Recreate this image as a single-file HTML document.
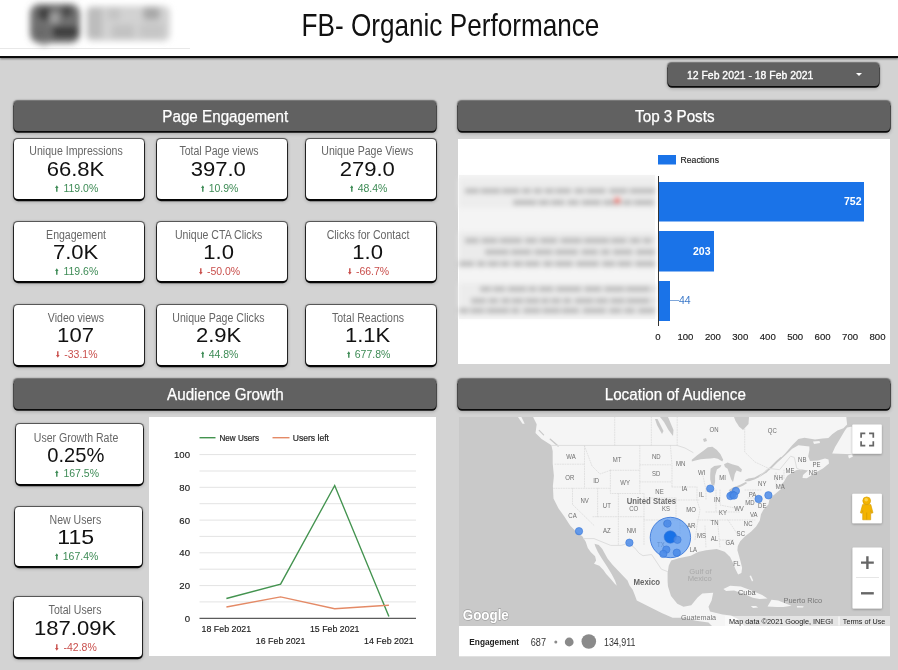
<!DOCTYPE html>
<html><head><meta charset="utf-8">
<style>
*{margin:0;padding:0;box-sizing:border-box}
html,body{width:898px;height:670px;overflow:hidden;background:#d3d3d3;font-family:"Liberation Sans",sans-serif}
.a{position:absolute}
#top{left:0;top:0;width:898px;height:56px;background:#fff;box-shadow:0 2px 0 0 #0c0c0c,0 2.5px 2px 0 rgba(0,0,0,.45)}
.hb{position:absolute;background:#616161;border-radius:4px;box-shadow:0 0 1.2px 0.6px rgba(0,0,0,.45),0 1.3px 0.4px 0.4px #111,0 1.5px 3.5px 1px rgba(0,0,0,.2);color:#fff;text-align:center;white-space:nowrap}
.hb span{display:inline-block;-webkit-text-stroke:0.25px #fff}
.card{position:absolute;background:#fff;border-radius:4px;box-shadow:0 0.4px 0.8px 0.6px rgba(0,0,0,.6),0 1.6px 0.4px 0.6px #0a0a0a,0 1.5px 3.5px 1px rgba(0,0,0,.2)}
.t{position:absolute;white-space:nowrap;text-align:center;line-height:1}
.t span{display:inline-block}
.lbl{color:#666;font-size:12px}
.val{color:#111;font-size:21px}
.up{color:#3d8b55;font-size:10.5px}
.dn{color:#c94f4c;font-size:10.5px}
.ar{display:inline-block;width:3.6px;height:7px;margin-right:4.4px;vertical-align:0px}
</style></head>
<body><div id="wrap" style="position:absolute;left:0;top:0;width:898px;height:670px;will-change:transform">
<div id="top" class="a"></div>
<div class="t" style="left:260px;top:10px;width:380px;font-size:31.5px;color:#111"><span style="transform:scaleX(.83)">FB- Organic Performance</span></div>
<div class="hb" style="left:13.6px;top:101px;width:422.2px;height:30px;font-size:16px;line-height:32.5px"><span style="transform:translateX(1px) scaleX(0.95)">Page Engagement</span></div>
<div class="hb" style="left:458px;top:101px;width:432.3px;height:30px;font-size:16px;line-height:32.5px"><span style="transform:translateX(1px) scaleX(0.95)">Top 3 Posts</span></div>
<div class="hb" style="left:13.6px;top:379.2px;width:422.2px;height:30.3px;font-size:16px;line-height:32.5px"><span style="transform:translateX(1px) scaleX(0.95)">Audience Growth</span></div>
<div class="hb" style="left:458px;top:379.2px;width:432.3px;height:30.3px;font-size:16px;line-height:32.5px"><span style="transform:translateX(1px) scaleX(0.95)">Location of Audience</span></div>
<div class="hb" style="left:668px;top:63px;width:211px;height:23px;font-size:11.4px;line-height:25.5px;text-align:left"><span style="position:absolute;left:19px;top:0;transform-origin:left;transform:scaleX(.915);-webkit-text-stroke:0.35px #fff">12 Feb 2021 - 18 Feb 2021</span><svg class="a" style="left:188px;top:10px" width="6" height="4"><path d="M0 0H6L3 3Z" fill="#fff"/></svg></div>
<div class="card" style="left:14px;top:139px;width:129.7px;height:59.5px"></div>
<div class="t lbl" style="left:-24.150000000000006px;top:144.60px;width:200px"><span style="transform:scaleX(.88)">Unique Impressions</span></div>
<div class="t val" style="left:-24.150000000000006px;top:158.17px;width:200px"><span style="transform:scaleX(1.05)">66.8K</span></div>
<div class="t up" style="left:-23.150000000000006px;top:183.10px;width:200px"><span style="transform:scaleX(1.0)"><svg class="ar" viewBox="0 0 4 7"><path d="M2 0L4 3H2.8V7H1.2V3H0Z" fill="currentColor"/></svg>119.0%</span></div>
<div class="card" style="left:156.5px;top:139px;width:130.2px;height:59.5px"></div>
<div class="t lbl" style="left:118.6px;top:144.60px;width:200px"><span style="transform:scaleX(.88)">Total Page views</span></div>
<div class="t val" style="left:118.6px;top:158.17px;width:200px"><span style="transform:scaleX(1.05)">397.0</span></div>
<div class="t up" style="left:119.6px;top:183.10px;width:200px"><span style="transform:scaleX(1.0)"><svg class="ar" viewBox="0 0 4 7"><path d="M2 0L4 3H2.8V7H1.2V3H0Z" fill="currentColor"/></svg>10.9%</span></div>
<div class="card" style="left:305.5px;top:139px;width:130.2px;height:59.5px"></div>
<div class="t lbl" style="left:267.6px;top:144.60px;width:200px"><span style="transform:scaleX(.88)">Unique Page Views</span></div>
<div class="t val" style="left:267.6px;top:158.17px;width:200px"><span style="transform:scaleX(1.05)">279.0</span></div>
<div class="t up" style="left:268.6px;top:183.10px;width:200px"><span style="transform:scaleX(1.0)"><svg class="ar" viewBox="0 0 4 7"><path d="M2 0L4 3H2.8V7H1.2V3H0Z" fill="currentColor"/></svg>48.4%</span></div>
<div class="card" style="left:14px;top:221.5px;width:129.7px;height:59.5px"></div>
<div class="t lbl" style="left:-24.150000000000006px;top:228.70px;width:200px"><span style="transform:scaleX(.88)">Engagement</span></div>
<div class="t val" style="left:-24.150000000000006px;top:240.67px;width:200px"><span style="transform:scaleX(1.05)">7.0K</span></div>
<div class="t up" style="left:-23.150000000000006px;top:265.60px;width:200px"><span style="transform:scaleX(1.0)"><svg class="ar" viewBox="0 0 4 7"><path d="M2 0L4 3H2.8V7H1.2V3H0Z" fill="currentColor"/></svg>119.6%</span></div>
<div class="card" style="left:156.5px;top:221.5px;width:130.2px;height:59.5px"></div>
<div class="t lbl" style="left:118.6px;top:228.70px;width:200px"><span style="transform:scaleX(.88)">Unique CTA Clicks</span></div>
<div class="t val" style="left:118.6px;top:240.67px;width:200px"><span style="transform:scaleX(1.05)">1.0</span></div>
<div class="t dn" style="left:119.6px;top:265.60px;width:200px"><span style="transform:scaleX(1.0)"><svg class="ar" viewBox="0 0 4 7"><path d="M2 7L4 4H2.8V0H1.2V4H0Z" fill="currentColor"/></svg>-50.0%</span></div>
<div class="card" style="left:305.5px;top:221.5px;width:130.2px;height:59.5px"></div>
<div class="t lbl" style="left:267.6px;top:228.70px;width:200px"><span style="transform:scaleX(.88)">Clicks for Contact</span></div>
<div class="t val" style="left:267.6px;top:240.67px;width:200px"><span style="transform:scaleX(1.05)">1.0</span></div>
<div class="t dn" style="left:268.6px;top:265.60px;width:200px"><span style="transform:scaleX(1.0)"><svg class="ar" viewBox="0 0 4 7"><path d="M2 7L4 4H2.8V0H1.2V4H0Z" fill="currentColor"/></svg>-66.7%</span></div>
<div class="card" style="left:14px;top:304.5px;width:129.7px;height:60px"></div>
<div class="t lbl" style="left:-24.150000000000006px;top:311.70px;width:200px"><span style="transform:scaleX(.88)">Video views</span></div>
<div class="t val" style="left:-24.150000000000006px;top:323.67px;width:200px"><span style="transform:scaleX(1.05)">107</span></div>
<div class="t dn" style="left:-23.150000000000006px;top:348.60px;width:200px"><span style="transform:scaleX(1.0)"><svg class="ar" viewBox="0 0 4 7"><path d="M2 7L4 4H2.8V0H1.2V4H0Z" fill="currentColor"/></svg>-33.1%</span></div>
<div class="card" style="left:156.5px;top:304.5px;width:130.2px;height:60px"></div>
<div class="t lbl" style="left:118.6px;top:311.70px;width:200px"><span style="transform:scaleX(.88)">Unique Page Clicks</span></div>
<div class="t val" style="left:118.6px;top:323.67px;width:200px"><span style="transform:scaleX(1.05)">2.9K</span></div>
<div class="t up" style="left:119.6px;top:348.60px;width:200px"><span style="transform:scaleX(1.0)"><svg class="ar" viewBox="0 0 4 7"><path d="M2 0L4 3H2.8V7H1.2V3H0Z" fill="currentColor"/></svg>44.8%</span></div>
<div class="card" style="left:305.5px;top:304.5px;width:130.2px;height:60px"></div>
<div class="t lbl" style="left:267.6px;top:311.70px;width:200px"><span style="transform:scaleX(.88)">Total Reactions</span></div>
<div class="t val" style="left:267.6px;top:323.67px;width:200px"><span style="transform:scaleX(1.05)">1.1K</span></div>
<div class="t up" style="left:268.6px;top:348.60px;width:200px"><span style="transform:scaleX(1.0)"><svg class="ar" viewBox="0 0 4 7"><path d="M2 0L4 3H2.8V7H1.2V3H0Z" fill="currentColor"/></svg>677.8%</span></div>
<div class="card" style="left:15.5px;top:424px;width:127.5px;height:60px"></div>
<div class="t lbl" style="left:-23.75px;top:431.90px;width:200px"><span style="transform:scaleX(.88)">User Growth Rate</span></div>
<div class="t val" style="left:-23.75px;top:444.17px;width:200px"><span style="transform:scaleX(0.96)">0.25%</span></div>
<div class="t up" style="left:-22.75px;top:468.40px;width:200px"><span style="transform:scaleX(1.0)"><svg class="ar" viewBox="0 0 4 7"><path d="M2 0L4 3H2.8V7H1.2V3H0Z" fill="currentColor"/></svg>167.5%</span></div>
<div class="card" style="left:15px;top:506.7px;width:126.5px;height:59.5px"></div>
<div class="t lbl" style="left:-24.450000000000003px;top:514.00px;width:200px"><span style="transform:scaleX(.88)">New Users</span></div>
<div class="t val" style="left:-24.450000000000003px;top:526.17px;width:200px"><span style="transform:scaleX(1.1)">115</span></div>
<div class="t up" style="left:-23.450000000000003px;top:551.00px;width:200px"><span style="transform:scaleX(1.0)"><svg class="ar" viewBox="0 0 4 7"><path d="M2 0L4 3H2.8V7H1.2V3H0Z" fill="currentColor"/></svg>167.4%</span></div>
<div class="card" style="left:13.5px;top:597px;width:128px;height:60px"></div>
<div class="t lbl" style="left:-24.900000000000006px;top:603.90px;width:200px"><span style="transform:scaleX(.88)">Total Users</span></div>
<div class="t val" style="left:-24.900000000000006px;top:616.57px;width:200px"><span style="transform:scaleX(1.05)">187.09K</span></div>
<div class="t dn" style="left:-23.900000000000006px;top:641.70px;width:200px"><span style="transform:scaleX(1.0)"><svg class="ar" viewBox="0 0 4 7"><path d="M2 7L4 4H2.8V0H1.2V4H0Z" fill="currentColor"/></svg>-42.8%</span></div>
<div class="a" style="left:458px;top:139px;width:432px;height:225px;background:#fff"></div>
<div class="a" style="left:149px;top:417px;width:287px;height:239px;background:#fff"></div>
<div class="a" style="left:459px;top:417px;width:431px;height:239px;background:#fff"></div>
<svg class="a" style="left:0;top:0" width="200" height="56"><defs><filter id="lb" x="-20%" y="-20%" width="140%" height="140%"><feGaussianBlur stdDeviation="3.3"/></filter></defs>
<line x1="0" y1="48.5" x2="190" y2="48.5" stroke="#e8e8e8" stroke-width="1"/>
<g filter="url(#lb)">
<rect x="30" y="4" width="50" height="39" rx="9" fill="#727272"/>
<circle cx="44.4" cy="13.8" r="7" fill="#404040"/>
<circle cx="66.8" cy="11.5" r="6" fill="#484848"/>
<rect x="52" y="26" width="26" height="12" rx="5" fill="#3c3c3c"/>
<rect x="50" y="13" width="9" height="10" fill="#a0a0a0"/>
<rect x="34" y="26" width="14" height="14" rx="5" fill="#6a6a6a"/>
<rect x="40" y="40" width="8" height="5" fill="#8a8a8a"/>
<rect x="86" y="6" width="84" height="35" rx="6" fill="#d2d2d2"/>
<rect x="88" y="8" width="14" height="30" fill="#bcbcbc"/>
<rect x="108" y="8" width="12" height="12" fill="#c4c4c4"/>
<rect x="143" y="7" width="17" height="13" rx="4" fill="#a9a9a9"/>
<rect x="112" y="25" width="22" height="13" fill="#c2c2c2"/>
<rect x="140" y="24" width="24" height="14" fill="#c6c6c6"/>
</g></svg>
<svg class="a" style="left:0;top:0" width="898" height="670" font-family="Liberation Sans, sans-serif"><defs><filter id="bl" x="-5%" y="-20%" width="110%" height="140%"><feGaussianBlur stdDeviation="2.4"/></filter></defs><rect x="459" y="175" width="196" height="144" fill="#f4f4f4"/><g filter="url(#bl)"><rect x="459" y="178" width="196" height="30" fill="#ededed"/><rect x="459" y="232" width="196" height="36" fill="#ebebeb"/><rect x="459" y="283" width="196" height="34" fill="#ececec"/><rect x="465.0" y="188.20000000000002" width="13.8" height="5.4" fill="#bcbcbc"/><rect x="480.6" y="188.20000000000002" width="19.7" height="5.4" fill="#bcbcbc"/><rect x="502.0" y="188.20000000000002" width="17.6" height="5.4" fill="#bcbcbc"/><rect x="521.9" y="188.20000000000002" width="9.0" height="5.4" fill="#bcbcbc"/><rect x="533.4" y="188.20000000000002" width="8.7" height="5.4" fill="#bcbcbc"/><rect x="544.5" y="188.20000000000002" width="9.3" height="5.4" fill="#bcbcbc"/><rect x="555.4" y="188.20000000000002" width="15.6" height="5.4" fill="#bcbcbc"/><rect x="574.2" y="188.20000000000002" width="10.2" height="5.4" fill="#bcbcbc"/><rect x="586.4" y="188.20000000000002" width="19.3" height="5.4" fill="#bcbcbc"/><rect x="609.1" y="188.20000000000002" width="18.4" height="5.4" fill="#bcbcbc"/><rect x="629.7" y="188.20000000000002" width="25.3" height="5.4" fill="#bcbcbc"/><rect x="513.0" y="199.8" width="23.5" height="5.4" fill="#bcbcbc"/><rect x="538.5" y="199.8" width="10.6" height="5.4" fill="#bcbcbc"/><rect x="550.9" y="199.8" width="13.6" height="5.4" fill="#bcbcbc"/><rect x="567.5" y="199.8" width="11.3" height="5.4" fill="#bcbcbc"/><rect x="581.5" y="199.8" width="19.5" height="5.4" fill="#bcbcbc"/><rect x="603.2" y="199.8" width="17.9" height="5.4" fill="#bcbcbc"/><rect x="622.7" y="199.8" width="9.1" height="5.4" fill="#bcbcbc"/><rect x="633.7" y="199.8" width="20.2" height="5.4" fill="#bcbcbc"/><rect x="465.0" y="237.9" width="13.7" height="5.4" fill="#bcbcbc"/><rect x="481.3" y="237.9" width="16.2" height="5.4" fill="#bcbcbc"/><rect x="499.6" y="237.9" width="22.3" height="5.4" fill="#bcbcbc"/><rect x="524.8" y="237.9" width="12.4" height="5.4" fill="#bcbcbc"/><rect x="539.8" y="237.9" width="17.5" height="5.4" fill="#bcbcbc"/><rect x="560.5" y="237.9" width="21.1" height="5.4" fill="#bcbcbc"/><rect x="583.7" y="237.9" width="25.6" height="5.4" fill="#bcbcbc"/><rect x="611.1" y="237.9" width="15.5" height="5.4" fill="#bcbcbc"/><rect x="629.7" y="237.9" width="10.7" height="5.4" fill="#bcbcbc"/><rect x="642.9" y="237.9" width="8.7" height="5.4" fill="#bcbcbc"/><rect x="654.4" y="237.9" width="0.6" height="5.4" fill="#bcbcbc"/><rect x="485.0" y="249.4" width="23.8" height="5.4" fill="#bcbcbc"/><rect x="510.9" y="249.4" width="20.5" height="5.4" fill="#bcbcbc"/><rect x="534.1" y="249.4" width="18.4" height="5.4" fill="#bcbcbc"/><rect x="554.9" y="249.4" width="23.1" height="5.4" fill="#bcbcbc"/><rect x="581.4" y="249.4" width="16.5" height="5.4" fill="#bcbcbc"/><rect x="600.8" y="249.4" width="9.1" height="5.4" fill="#bcbcbc"/><rect x="612.8" y="249.4" width="19.6" height="5.4" fill="#bcbcbc"/><rect x="635.9" y="249.4" width="19.1" height="5.4" fill="#bcbcbc"/><rect x="459.0" y="261.09999999999997" width="14.9" height="5.4" fill="#bcbcbc"/><rect x="476.8" y="261.09999999999997" width="8.4" height="5.4" fill="#bcbcbc"/><rect x="487.6" y="261.09999999999997" width="11.0" height="5.4" fill="#bcbcbc"/><rect x="500.4" y="261.09999999999997" width="9.1" height="5.4" fill="#bcbcbc"/><rect x="512.5" y="261.09999999999997" width="10.3" height="5.4" fill="#bcbcbc"/><rect x="524.8" y="261.09999999999997" width="15.0" height="5.4" fill="#bcbcbc"/><rect x="543.1" y="261.09999999999997" width="9.5" height="5.4" fill="#bcbcbc"/><rect x="554.9" y="261.09999999999997" width="17.9" height="5.4" fill="#bcbcbc"/><rect x="576.1" y="261.09999999999997" width="22.7" height="5.4" fill="#bcbcbc"/><rect x="602.1" y="261.09999999999997" width="13.0" height="5.4" fill="#bcbcbc"/><rect x="617.4" y="261.09999999999997" width="14.5" height="5.4" fill="#bcbcbc"/><rect x="635.1" y="261.09999999999997" width="19.9" height="5.4" fill="#bcbcbc"/><rect x="480.0" y="286.4" width="11.2" height="5.4" fill="#bcbcbc"/><rect x="493.1" y="286.4" width="12.2" height="5.4" fill="#bcbcbc"/><rect x="507.8" y="286.4" width="18.6" height="5.4" fill="#bcbcbc"/><rect x="528.4" y="286.4" width="8.1" height="5.4" fill="#bcbcbc"/><rect x="538.8" y="286.4" width="14.6" height="5.4" fill="#bcbcbc"/><rect x="556.1" y="286.4" width="25.2" height="5.4" fill="#bcbcbc"/><rect x="584.2" y="286.4" width="17.3" height="5.4" fill="#bcbcbc"/><rect x="604.2" y="286.4" width="20.2" height="5.4" fill="#bcbcbc"/><rect x="626.0" y="286.4" width="24.2" height="5.4" fill="#bcbcbc"/><rect x="653.2" y="286.4" width="1.8" height="5.4" fill="#bcbcbc"/><rect x="471.0" y="298.09999999999997" width="15.1" height="5.4" fill="#bcbcbc"/><rect x="488.4" y="298.09999999999997" width="9.9" height="5.4" fill="#bcbcbc"/><rect x="501.0" y="298.09999999999997" width="9.1" height="5.4" fill="#bcbcbc"/><rect x="511.7" y="298.09999999999997" width="11.8" height="5.4" fill="#bcbcbc"/><rect x="525.3" y="298.09999999999997" width="14.1" height="5.4" fill="#bcbcbc"/><rect x="541.1" y="298.09999999999997" width="8.0" height="5.4" fill="#bcbcbc"/><rect x="550.9" y="298.09999999999997" width="9.8" height="5.4" fill="#bcbcbc"/><rect x="562.9" y="298.09999999999997" width="8.5" height="5.4" fill="#bcbcbc"/><rect x="574.6" y="298.09999999999997" width="19.1" height="5.4" fill="#bcbcbc"/><rect x="595.5" y="298.09999999999997" width="12.5" height="5.4" fill="#bcbcbc"/><rect x="610.2" y="298.09999999999997" width="14.6" height="5.4" fill="#bcbcbc"/><rect x="626.5" y="298.09999999999997" width="23.3" height="5.4" fill="#bcbcbc"/><rect x="653.3" y="298.09999999999997" width="1.7" height="5.4" fill="#bcbcbc"/><rect x="459.0" y="307.9" width="9.5" height="5.4" fill="#bcbcbc"/><rect x="470.3" y="307.9" width="14.2" height="5.4" fill="#bcbcbc"/><rect x="486.4" y="307.9" width="22.9" height="5.4" fill="#bcbcbc"/><rect x="511.2" y="307.9" width="8.4" height="5.4" fill="#bcbcbc"/><rect x="523.0" y="307.9" width="17.5" height="5.4" fill="#bcbcbc"/><rect x="542.3" y="307.9" width="17.8" height="5.4" fill="#bcbcbc"/><rect x="561.6" y="307.9" width="17.5" height="5.4" fill="#bcbcbc"/><rect x="582.6" y="307.9" width="23.5" height="5.4" fill="#bcbcbc"/><rect x="609.0" y="307.9" width="12.7" height="5.4" fill="#bcbcbc"/><rect x="624.0" y="307.9" width="11.0" height="5.4" fill="#bcbcbc"/><rect x="638.0" y="307.9" width="17.0" height="5.4" fill="#bcbcbc"/><circle cx="617.3" cy="200.5" r="3.3" fill="#f07a72"/></g><rect x="658" y="155" width="18" height="9.5" fill="#1a73e8"/><text x="680.5" y="162.6" font-size="9.6" fill="#1a1a1a" stroke="#1a1a1a" stroke-width="0.15" textLength="38.5" lengthAdjust="spacingAndGlyphs">Reactions</text><rect x="658" y="182" width="206" height="39.5" fill="#1a73e8"/><rect x="658" y="231" width="56" height="40.5" fill="#1a73e8"/><rect x="658" y="281" width="12" height="40" fill="#1a73e8"/><line x1="658.5" y1="176" x2="658.5" y2="326" stroke="#333" stroke-width="1"/><text x="861.5" y="205" font-size="10.5" font-weight="bold" fill="#fff" text-anchor="end">752</text><text x="710.5" y="255.3" font-size="10.5" font-weight="bold" fill="#fff" text-anchor="end">203</text><line x1="670" y1="300.5" x2="679" y2="300.5" stroke="#7fa7da" stroke-width="1"/><text x="679" y="304.4" font-size="10.5" fill="#3a78c9">44</text><text x="658.0" y="340" font-size="9.6" fill="#1a1a1a" stroke="#1a1a1a" stroke-width="0.15" text-anchor="middle">0</text><text x="685.4" y="340" font-size="9.6" fill="#1a1a1a" stroke="#1a1a1a" stroke-width="0.15" text-anchor="middle">100</text><text x="712.9" y="340" font-size="9.6" fill="#1a1a1a" stroke="#1a1a1a" stroke-width="0.15" text-anchor="middle">200</text><text x="740.3" y="340" font-size="9.6" fill="#1a1a1a" stroke="#1a1a1a" stroke-width="0.15" text-anchor="middle">300</text><text x="767.8" y="340" font-size="9.6" fill="#1a1a1a" stroke="#1a1a1a" stroke-width="0.15" text-anchor="middle">400</text><text x="795.2" y="340" font-size="9.6" fill="#1a1a1a" stroke="#1a1a1a" stroke-width="0.15" text-anchor="middle">500</text><text x="822.6" y="340" font-size="9.6" fill="#1a1a1a" stroke="#1a1a1a" stroke-width="0.15" text-anchor="middle">600</text><text x="850.1" y="340" font-size="9.6" fill="#1a1a1a" stroke="#1a1a1a" stroke-width="0.15" text-anchor="middle">700</text><text x="877.5" y="340" font-size="9.6" fill="#1a1a1a" stroke="#1a1a1a" stroke-width="0.15" text-anchor="middle">800</text><line x1="199.5" y1="437.7" x2="215.5" y2="437.7" stroke="#43934f" stroke-width="1.4"/><text x="219.5" y="441" font-size="9.4" fill="#222" stroke="#222" stroke-width="0.2" textLength="39.5" lengthAdjust="spacingAndGlyphs">New Users</text><line x1="272.5" y1="437.7" x2="289.5" y2="437.7" stroke="#e48a66" stroke-width="1.4"/><text x="292.7" y="441" font-size="9.4" fill="#222" stroke="#222" stroke-width="0.2" textLength="36.3" lengthAdjust="spacingAndGlyphs">Users left</text><line x1="199.5" y1="601.9" x2="416" y2="601.9" stroke="#e3e3e3" stroke-width="1"/><line x1="199.5" y1="585.6" x2="416" y2="585.6" stroke="#e3e3e3" stroke-width="1"/><line x1="199.5" y1="569.2" x2="416" y2="569.2" stroke="#e3e3e3" stroke-width="1"/><line x1="199.5" y1="552.8" x2="416" y2="552.8" stroke="#e3e3e3" stroke-width="1"/><line x1="199.5" y1="536.4" x2="416" y2="536.4" stroke="#e3e3e3" stroke-width="1"/><line x1="199.5" y1="520.1" x2="416" y2="520.1" stroke="#e3e3e3" stroke-width="1"/><line x1="199.5" y1="503.7" x2="416" y2="503.7" stroke="#e3e3e3" stroke-width="1"/><line x1="199.5" y1="487.3" x2="416" y2="487.3" stroke="#e3e3e3" stroke-width="1"/><line x1="199.5" y1="471.0" x2="416" y2="471.0" stroke="#e3e3e3" stroke-width="1"/><line x1="199.5" y1="454.6" x2="416" y2="454.6" stroke="#e3e3e3" stroke-width="1"/><text x="190" y="621.7" font-size="9.6" fill="#1a1a1a" stroke="#1a1a1a" stroke-width="0.15" text-anchor="end">0</text><text x="190" y="589.0" font-size="9.6" fill="#1a1a1a" stroke="#1a1a1a" stroke-width="0.15" text-anchor="end">20</text><text x="190" y="556.2" font-size="9.6" fill="#1a1a1a" stroke="#1a1a1a" stroke-width="0.15" text-anchor="end">40</text><text x="190" y="523.5" font-size="9.6" fill="#1a1a1a" stroke="#1a1a1a" stroke-width="0.15" text-anchor="end">60</text><text x="190" y="490.7" font-size="9.6" fill="#1a1a1a" stroke="#1a1a1a" stroke-width="0.15" text-anchor="end">80</text><text x="190" y="458.0" font-size="9.6" fill="#1a1a1a" stroke="#1a1a1a" stroke-width="0.15" text-anchor="end">100</text><line x1="199.5" y1="618.3" x2="416" y2="618.3" stroke="#333" stroke-width="1"/><polyline fill="none" stroke="#43934f" stroke-width="1.4" points="226.4,598.5 280.6,584.1 334.7,485.5 388.9,616.6"/><polyline fill="none" stroke="#e48a66" stroke-width="1.4" points="226.4,607.0 280.6,596.9 334.7,608.7 388.9,605.2"/><text x="226.4" y="632.2" font-size="9.6" fill="#1a1a1a" stroke="#1a1a1a" stroke-width="0.15" text-anchor="middle" textLength="49.6" lengthAdjust="spacingAndGlyphs">18 Feb 2021</text><text x="280.6" y="644.3" font-size="9.6" fill="#1a1a1a" stroke="#1a1a1a" stroke-width="0.15" text-anchor="middle" textLength="49.6" lengthAdjust="spacingAndGlyphs">16 Feb 2021</text><text x="334.7" y="632.2" font-size="9.6" fill="#1a1a1a" stroke="#1a1a1a" stroke-width="0.15" text-anchor="middle" textLength="49.6" lengthAdjust="spacingAndGlyphs">15 Feb 2021</text><text x="388.9" y="644.3" font-size="9.6" fill="#1a1a1a" stroke="#1a1a1a" stroke-width="0.15" text-anchor="middle" textLength="49.6" lengthAdjust="spacingAndGlyphs">14 Feb 2021</text></svg>
<svg class="a" style="left:0;top:0" width="898" height="670" font-family="Liberation Sans, sans-serif"><defs><clipPath id="mc"><rect x="459" y="417" width="431" height="240"/></clipPath><filter id="gs" x="-10%" y="-20%" width="120%" height="150%"><feDropShadow dx="0" dy="0.5" stdDeviation="0.6" flood-color="#000" flood-opacity="0.35"/></filter><filter id="sh" x="-20%" y="-20%" width="140%" height="150%"><feDropShadow dx="0" dy="1" stdDeviation="1" flood-opacity="0.3"/></filter></defs><g clip-path="url(#mc)"><rect x="459" y="417" width="431" height="209" fill="#c9c9c9"/><polygon points="533.1,417.0 846.3,417.0 847.1,424.5 843.4,428.2 837.4,430.4 832.2,434.2 828.4,437.9 822.5,438.6 815.0,439.4 804.5,437.8 798.4,439.0 792.2,445.2 784.9,453.7 779.0,459.5 782.4,458.0 792.2,448.8 798.4,445.2 809.4,446.4 809.4,450.0 808.2,456.2 810.0,461.0 818.0,460.5 825.0,458.5 828.5,459.5 829.0,463.5 822.9,468.4 814.3,473.3 806.9,478.2 802.5,478.0 803.0,475.0 808.0,470.5 802.0,469.5 796.8,470.0 794.7,470.9 787.3,475.8 783.7,481.9 780.0,485.6 783.1,487.3 775.7,493.5 769.6,498.4 768.4,504.5 763.5,509.4 761.0,514.3 759.8,520.4 756.1,526.5 751.2,531.4 745.1,536.3 740.2,541.2 737.8,546.1 737.4,550.3 740.1,559.7 742.1,567.7 741.4,573.1 738.1,574.4 735.4,569.0 732.8,562.4 730.1,557.0 724.7,551.7 716.7,549.0 706.0,550.3 698.0,552.0 690.8,555.7 678.6,558.2 671.2,560.6 668.8,565.5 667.6,572.9 667.6,581.4 668.0,586.5 671.0,595.9 677.3,603.7 683.5,606.8 691.3,605.2 697.6,597.4 702.3,593.5 713.2,592.7 711.6,600.5 708.5,606.8 710.0,611.4 722.5,614.6 731.0,615.5 738.0,619.0 744.0,626.0 712.0,626.0 708.5,622.4 696.0,620.8 683.5,617.7 672.6,617.7 661.7,613.0 649.2,606.8 636.8,600.5 634.8,595.0 632.7,589.8 629.6,585.6 627.5,580.4 622.5,575.2 617.5,569.9 612.5,564.7 607.5,558.4 602.3,549.0 598.8,544.9 594.6,543.8 595.1,545.9 598.0,552.2 601.8,558.4 607.2,566.8 611.6,574.1 615.0,580.4 616.8,585.8 614.5,583.5 611.0,579.3 606.2,574.1 603.4,569.9 599.3,565.7 594.0,563.7 596.1,560.5 595.1,556.3 590.9,552.2 587.8,548.0 585.7,541.7 582.5,536.5 576.3,531.8 570.3,525.8 564.5,516.7 558.4,508.2 553.5,498.4 552.9,486.1 553.5,480.0 553.9,475.8 552.7,463.5 552.7,451.3 551.4,445.2 541.6,439.0 535.5,432.9 536.7,424.3" fill="#f5f5f5" /><polygon points="518.0,417.0 521.4,417.0 524.7,423.7 522.5,423.7" fill="#f5f5f5" /><polygon points="847.1,427.4 852.5,426.5 852.5,454.3 832.2,453.6 835.1,446.9 839.6,439.4 844.9,430.4" fill="#f5f5f5" /><polygon points="848.0,455.5 852.0,454.5 853.0,456.5 849.0,458.5" fill="#f5f5f5" /><polygon points="813.0,441.5 819.5,441.0 820.0,443.0 814.0,444.0" fill="#f5f5f5" /><polygon points="723.4,589.1 730.1,585.8 740.8,586.4 751.5,590.4 762.2,595.1 767.5,598.5 759.5,599.1 752.8,597.8 743.5,593.8 734.1,590.4 726.1,591.1" fill="#f5f5f5" /><polygon points="771.5,599.8 778.2,600.5 786.2,603.8 791.6,605.8 783.5,607.1 776.9,607.1 767.5,606.5" fill="#f5f5f5" /><polygon points="750.8,606.0 756.0,606.0 758.2,607.5 753.0,608.0" fill="#f5f5f5" /><polygon points="796.9,606.0 803.6,606.3 803.0,607.6 797.0,607.5" fill="#f5f5f5" /><polygon points="749.5,576.0 751.0,575.5 753.2,580.5 752.0,581.5" fill="#f5f5f5" /><polygon points="812.0,462.5 818.0,461.8 817.0,463.5 812.5,464.0" fill="#f5f5f5" /><polygon points="734.0,417.0 749.0,417.0 748.5,424.0 743.0,430.0 739.0,426.5 735.5,421.0" fill="#c9c9c9" /><polygon points="660.0,417.0 668.0,417.0 673.5,430.0 673.0,436.0 668.5,430.0 664.0,422.0" fill="#c9c9c9" /><polygon points="655.0,419.0 657.5,419.0 663.5,431.0 662.0,434.0 657.0,425.0" fill="#c9c9c9" /><polygon points="691.8,459.7 697.2,455.2 703.4,450.8 707.9,447.2 712.4,446.7 716.9,449.9 720.5,454.3 723.2,459.7 722.3,461.5 717.8,458.8 714.2,457.9 710.6,458.4 706.1,458.8 700.8,459.3 695.4,460.6 691.8,461.5" fill="#c9c9c9" /><polygon points="710.6,468.7 714.2,466.0 721.4,465.1 720.5,466.9 716.9,469.6 715.1,475.8 715.1,482.1 714.2,485.7 711.5,484.8 710.2,479.4 710.2,474.0" fill="#c9c9c9" /><polygon points="724.0,464.2 727.6,462.4 732.1,464.2 738.4,466.0 742.0,469.6 741.1,472.3 736.6,470.5 734.8,474.0 733.9,478.5 733.0,482.1 731.2,479.4 729.4,474.0 727.6,468.7 725.0,466.9" fill="#c9c9c9" /><polygon points="728.5,490.2 733.0,487.5 740.2,484.8 745.6,482.1 747.3,483.0 742.9,485.7 736.6,488.4 731.2,492.0" fill="#c9c9c9" /><polygon points="744.7,480.3 748.2,478.5 754.5,477.6 760.8,474.0 765.3,471.4 768.0,470.5 767.0,472.3 759.9,476.7 754.5,479.4 749.1,481.2 745.6,481.2" fill="#c9c9c9" /><polygon points="703.0,439.0 706.0,438.0 707.0,441.0 704.0,442.0" fill="#c9c9c9" /><polyline fill="none" stroke="#c9c9c9" stroke-width="1.8" stroke-linejoin="round" stroke-linecap="round" points="766.0,471.5 771.0,467.5 777.0,461.5 781.0,458.0" /><polyline fill="none" stroke="#c9c9c9" stroke-width="1.2" stroke-linejoin="round" stroke-linecap="round" points="539.2,430.4 543.6,434.8" /><polyline fill="none" stroke="#c9c9c9" stroke-width="1.4" stroke-linejoin="round" stroke-linecap="round" points="550.3,439.3 558.1,446.0" /><polyline fill="none" stroke="#dedede" stroke-width="1" stroke-linejoin="round" stroke-linecap="round" points="551.4,445.4 677.0,445.4 685.0,448.0 693.0,452.5" /><polyline fill="none" stroke="#dedede" stroke-width="1" stroke-linejoin="round" stroke-linecap="round" points="758.8,477.0 768.6,468.4 779.6,469.7 790.6,456.2 794.3,457.4 796.8,468.4 801.0,470.0" /><polyline fill="none" stroke="#dedede" stroke-width="1" stroke-linejoin="round" stroke-linecap="round" points="583.6,538.6 594.0,538.6 610.7,545.4 621.2,545.4 628.5,543.3 634.8,548.0 639.0,553.2 643.0,555.7 651.6,554.5 661.4,569.2 667.6,571.6" /><polyline fill="none" stroke="#d8d8d8" stroke-width="0.7" stroke-linejoin="round" stroke-linecap="round" points="555.0,464.2 584.5,464.2" stroke-dasharray="1 1.5"/><polyline fill="none" stroke="#d8d8d8" stroke-width="0.7" stroke-linejoin="round" stroke-linecap="round" points="584.5,446.0 584.5,488.3" stroke-dasharray="1 1.5"/><polyline fill="none" stroke="#d8d8d8" stroke-width="0.7" stroke-linejoin="round" stroke-linecap="round" points="584.5,446.0 592.0,466.0 600.0,474.0 610.4,470.3" stroke-dasharray="1 1.5"/><polyline fill="none" stroke="#d8d8d8" stroke-width="0.7" stroke-linejoin="round" stroke-linecap="round" points="553.5,488.3 610.4,488.3" stroke-dasharray="1 1.5"/><polyline fill="none" stroke="#d8d8d8" stroke-width="0.7" stroke-linejoin="round" stroke-linecap="round" points="572.5,488.3 572.5,504.5 593.9,525.3" stroke-dasharray="1 1.5"/><polyline fill="none" stroke="#d8d8d8" stroke-width="0.7" stroke-linejoin="round" stroke-linecap="round" points="597.6,488.3 597.6,516.7" stroke-dasharray="1 1.5"/><polyline fill="none" stroke="#d8d8d8" stroke-width="0.7" stroke-linejoin="round" stroke-linecap="round" points="593.0,516.7 644.0,516.7" stroke-dasharray="1 1.5"/><polyline fill="none" stroke="#d8d8d8" stroke-width="0.7" stroke-linejoin="round" stroke-linecap="round" points="618.4,493.5 618.4,545.0" stroke-dasharray="1 1.5"/><polyline fill="none" stroke="#d8d8d8" stroke-width="0.7" stroke-linejoin="round" stroke-linecap="round" points="610.4,470.3 610.4,493.5 644.0,493.5" stroke-dasharray="1 1.5"/><polyline fill="none" stroke="#d8d8d8" stroke-width="0.7" stroke-linejoin="round" stroke-linecap="round" points="610.4,470.3 639.8,470.3" stroke-dasharray="1 1.5"/><polyline fill="none" stroke="#d8d8d8" stroke-width="0.7" stroke-linejoin="round" stroke-linecap="round" points="639.8,445.4 639.8,493.5" stroke-dasharray="1 1.5"/><polyline fill="none" stroke="#d8d8d8" stroke-width="0.7" stroke-linejoin="round" stroke-linecap="round" points="639.8,464.8 671.0,464.8" stroke-dasharray="1 1.5"/><polyline fill="none" stroke="#d8d8d8" stroke-width="0.7" stroke-linejoin="round" stroke-linecap="round" points="639.8,481.9 672.0,481.9" stroke-dasharray="1 1.5"/><polyline fill="none" stroke="#d8d8d8" stroke-width="0.7" stroke-linejoin="round" stroke-linecap="round" points="644.0,493.5 644.0,545.0" stroke-dasharray="1 1.5"/><polyline fill="none" stroke="#d8d8d8" stroke-width="0.7" stroke-linejoin="round" stroke-linecap="round" points="644.0,498.0 676.0,498.0" stroke-dasharray="1 1.5"/><polyline fill="none" stroke="#d8d8d8" stroke-width="0.7" stroke-linejoin="round" stroke-linecap="round" points="644.0,520.0 680.0,520.0" stroke-dasharray="1 1.5"/><polyline fill="none" stroke="#d8d8d8" stroke-width="0.7" stroke-linejoin="round" stroke-linecap="round" points="670.4,445.4 672.0,464.8 672.0,487.0" stroke-dasharray="1 1.5"/><polyline fill="none" stroke="#d8d8d8" stroke-width="0.7" stroke-linejoin="round" stroke-linecap="round" points="672.0,487.0 697.0,487.0" stroke-dasharray="1 1.5"/><polyline fill="none" stroke="#d8d8d8" stroke-width="0.7" stroke-linejoin="round" stroke-linecap="round" points="676.0,500.0 699.0,500.0" stroke-dasharray="1 1.5"/><polyline fill="none" stroke="#d8d8d8" stroke-width="0.7" stroke-linejoin="round" stroke-linecap="round" points="676.0,498.0 676.0,520.0" stroke-dasharray="1 1.5"/><polyline fill="none" stroke="#d8d8d8" stroke-width="0.7" stroke-linejoin="round" stroke-linecap="round" points="680.0,520.0 680.0,535.0" stroke-dasharray="1 1.5"/><polyline fill="none" stroke="#d8d8d8" stroke-width="0.7" stroke-linejoin="round" stroke-linecap="round" points="680.0,526.0 697.0,526.0" stroke-dasharray="1 1.5"/><polyline fill="none" stroke="#d8d8d8" stroke-width="0.7" stroke-linejoin="round" stroke-linecap="round" points="697.0,487.0 697.0,500.0 700.0,510.0 697.0,526.0 695.0,540.0" stroke-dasharray="1 1.5"/><polyline fill="none" stroke="#d8d8d8" stroke-width="0.7" stroke-linejoin="round" stroke-linecap="round" points="703.0,476.0 706.0,490.0 706.0,500.0" stroke-dasharray="1 1.5"/><polyline fill="none" stroke="#d8d8d8" stroke-width="0.7" stroke-linejoin="round" stroke-linecap="round" points="706.0,490.0 716.0,490.0" stroke-dasharray="1 1.5"/><polyline fill="none" stroke="#d8d8d8" stroke-width="0.7" stroke-linejoin="round" stroke-linecap="round" points="716.0,490.0 716.0,512.0" stroke-dasharray="1 1.5"/><polyline fill="none" stroke="#d8d8d8" stroke-width="0.7" stroke-linejoin="round" stroke-linecap="round" points="706.0,512.0 740.0,512.0" stroke-dasharray="1 1.5"/><polyline fill="none" stroke="#d8d8d8" stroke-width="0.7" stroke-linejoin="round" stroke-linecap="round" points="697.0,520.0 755.0,520.0" stroke-dasharray="1 1.5"/><polyline fill="none" stroke="#d8d8d8" stroke-width="0.7" stroke-linejoin="round" stroke-linecap="round" points="720.0,490.0 720.0,505.0 735.0,508.0" stroke-dasharray="1 1.5"/><polyline fill="none" stroke="#d8d8d8" stroke-width="0.7" stroke-linejoin="round" stroke-linecap="round" points="705.0,526.0 706.0,548.0" stroke-dasharray="1 1.5"/><polyline fill="none" stroke="#d8d8d8" stroke-width="0.7" stroke-linejoin="round" stroke-linecap="round" points="718.0,526.0 720.0,548.0" stroke-dasharray="1 1.5"/><polyline fill="none" stroke="#d8d8d8" stroke-width="0.7" stroke-linejoin="round" stroke-linecap="round" points="720.0,540.0 735.0,540.0" stroke-dasharray="1 1.5"/><polyline fill="none" stroke="#d8d8d8" stroke-width="0.7" stroke-linejoin="round" stroke-linecap="round" points="728.0,520.0 738.0,535.0" stroke-dasharray="1 1.5"/><polyline fill="none" stroke="#d8d8d8" stroke-width="0.7" stroke-linejoin="round" stroke-linecap="round" points="745.0,490.0 762.0,490.0" stroke-dasharray="1 1.5"/><polyline fill="none" stroke="#d8d8d8" stroke-width="0.7" stroke-linejoin="round" stroke-linecap="round" points="748.0,498.0 762.0,498.0" stroke-dasharray="1 1.5"/><polyline fill="none" stroke="#d8d8d8" stroke-width="0.7" stroke-linejoin="round" stroke-linecap="round" points="776.0,473.0 776.0,488.0" stroke-dasharray="1 1.5"/><polyline fill="none" stroke="#d8d8d8" stroke-width="0.7" stroke-linejoin="round" stroke-linecap="round" points="784.0,470.0 784.0,480.0" stroke-dasharray="1 1.5"/><polyline fill="none" stroke="#d8d8d8" stroke-width="0.7" stroke-linejoin="round" stroke-linecap="round" points="614.7,417.0 614.7,445.4" stroke-dasharray="1 1.5"/><polyline fill="none" stroke="#d8d8d8" stroke-width="0.7" stroke-linejoin="round" stroke-linecap="round" points="651.4,417.0 651.4,445.4" stroke-dasharray="1 1.5"/><polyline fill="none" stroke="#d8d8d8" stroke-width="0.7" stroke-linejoin="round" stroke-linecap="round" points="677.2,417.0 677.2,445.4" stroke-dasharray="1 1.5"/><polyline fill="none" stroke="#d8d8d8" stroke-width="0.7" stroke-linejoin="round" stroke-linecap="round" points="744.7,429.0 744.7,452.0 755.0,462.0 768.6,468.4" stroke-dasharray="1 1.5"/><text transform="translate(571 459.3) scale(0.86 1)" font-size="7" fill="#6e6e6e" text-anchor="middle">WA</text><text transform="translate(569.8 480.1) scale(0.86 1)" font-size="7" fill="#6e6e6e" text-anchor="middle">OR</text><text transform="translate(596.2 482.5) scale(0.86 1)" font-size="7" fill="#6e6e6e" text-anchor="middle">ID</text><text transform="translate(617.1 461.8) scale(0.86 1)" font-size="7" fill="#6e6e6e" text-anchor="middle">MT</text><text transform="translate(656.3 458.7) scale(0.86 1)" font-size="7" fill="#6e6e6e" text-anchor="middle">ND</text><text transform="translate(656.1 476.1) scale(0.86 1)" font-size="7" fill="#6e6e6e" text-anchor="middle">SD</text><text transform="translate(680.6 466.0) scale(0.86 1)" font-size="7" fill="#6e6e6e" text-anchor="middle">MN</text><text transform="translate(701.7 475.2) scale(0.86 1)" font-size="7" fill="#6e6e6e" text-anchor="middle">WI</text><text transform="translate(625.1 485.4) scale(0.86 1)" font-size="7" fill="#6e6e6e" text-anchor="middle">WY</text><text transform="translate(684.5 491.0) scale(0.86 1)" font-size="7" fill="#6e6e6e" text-anchor="middle">IA</text><text transform="translate(584.7 503.3) scale(0.86 1)" font-size="7" fill="#6e6e6e" text-anchor="middle">NV</text><text transform="translate(606.8 507.6) scale(0.86 1)" font-size="7" fill="#6e6e6e" text-anchor="middle">UT</text><text transform="translate(572.5 518.0) scale(0.86 1)" font-size="7" fill="#6e6e6e" text-anchor="middle">CA</text><text transform="translate(606.8 532.7) scale(0.86 1)" font-size="7" fill="#6e6e6e" text-anchor="middle">AZ</text><text transform="translate(631.3 532.7) scale(0.86 1)" font-size="7" fill="#6e6e6e" text-anchor="middle">NM</text><text transform="translate(633.7 511.3) scale(0.86 1)" font-size="7" fill="#6e6e6e" text-anchor="middle">CO</text><text transform="translate(659.5 493.8) scale(0.86 1)" font-size="7" fill="#6e6e6e" text-anchor="middle">NE</text><text transform="translate(666 510.8) scale(0.86 1)" font-size="7" fill="#6e6e6e" text-anchor="middle">KS</text><text transform="translate(691.2 511.9) scale(0.86 1)" font-size="7" fill="#6e6e6e" text-anchor="middle">MO</text><text transform="translate(701.6 497.2) scale(0.86 1)" font-size="7" fill="#6e6e6e" text-anchor="middle">IL</text><text transform="translate(717 501.5) scale(0.86 1)" font-size="7" fill="#6e6e6e" text-anchor="middle">IN</text><text transform="translate(723.1 515.0) scale(0.86 1)" font-size="7" fill="#6e6e6e" text-anchor="middle">KY</text><text transform="translate(739 511.3) scale(0.86 1)" font-size="7" fill="#6e6e6e" text-anchor="middle">WV</text><text transform="translate(753.7 516.5) scale(0.86 1)" font-size="7" fill="#6e6e6e" text-anchor="middle">VA</text><text transform="translate(752.5 497.2) scale(0.86 1)" font-size="7" fill="#6e6e6e" text-anchor="middle">PA</text><text transform="translate(750 504.5) scale(0.86 1)" font-size="7" fill="#6e6e6e" text-anchor="middle">MD</text><text transform="translate(762.3 508.2) scale(0.86 1)" font-size="7" fill="#6e6e6e" text-anchor="middle">DE</text><text transform="translate(748.2 526.0) scale(0.86 1)" font-size="7" fill="#6e6e6e" text-anchor="middle">NC</text><text transform="translate(714.5 525.4) scale(0.86 1)" font-size="7" fill="#6e6e6e" text-anchor="middle">TN</text><text transform="translate(740.8 536.4) scale(0.86 1)" font-size="7" fill="#6e6e6e" text-anchor="middle">SC</text><text transform="translate(729.8 545.0) scale(0.86 1)" font-size="7" fill="#6e6e6e" text-anchor="middle">GA</text><text transform="translate(701.6 538.2) scale(0.86 1)" font-size="7" fill="#6e6e6e" text-anchor="middle">MS</text><text transform="translate(714.5 541.3) scale(0.86 1)" font-size="7" fill="#6e6e6e" text-anchor="middle">AL</text><text transform="translate(762.3 485.6) scale(0.86 1)" font-size="7" fill="#6e6e6e" text-anchor="middle">NY</text><text transform="translate(780.2 489.3) scale(0.86 1)" font-size="7" fill="#6e6e6e" text-anchor="middle">MA</text><text transform="translate(722.7 480.1) scale(0.86 1)" font-size="7" fill="#6e6e6e" text-anchor="middle">MI</text><text transform="translate(714.1 431.7) scale(0.86 1)" font-size="7" fill="#6e6e6e" text-anchor="middle">ON</text><text transform="translate(772.3 433.0) scale(0.86 1)" font-size="7" fill="#6e6e6e" text-anchor="middle">QC</text><text transform="translate(802.3 461.8) scale(0.86 1)" font-size="7" fill="#6e6e6e" text-anchor="middle">NB</text><text transform="translate(790 473.4) scale(0.86 1)" font-size="7" fill="#6e6e6e" text-anchor="middle">ME</text><text transform="translate(778.4 480.1) scale(0.86 1)" font-size="7" fill="#6e6e6e" text-anchor="middle">NH</text><text transform="translate(816.5 466.5) scale(0.86 1)" font-size="7" fill="#6e6e6e" text-anchor="middle">PE</text><text transform="translate(813 475.0) scale(0.86 1)" font-size="7" fill="#6e6e6e" text-anchor="middle">NS</text><text transform="translate(667 526.0) scale(0.86 1)" font-size="7" fill="#6e6e6e" text-anchor="middle">OK</text><text transform="translate(691.2 527.8) scale(0.86 1)" font-size="7" fill="#6e6e6e" text-anchor="middle">AR</text><text transform="translate(693.3 552.1) scale(0.86 1)" font-size="7" fill="#6e6e6e" text-anchor="middle">LA</text><text transform="translate(660.8 547.2) scale(0.86 1)" font-size="7" fill="#6e6e6e" text-anchor="middle">TX</text><text transform="translate(736.8 566.2) scale(0.86 1)" font-size="7" fill="#6e6e6e" text-anchor="middle">FL</text><text x="651.4" y="503.5" font-size="8.3" font-weight="bold" fill="#6c6c6c" text-anchor="middle" textLength="49.5" lengthAdjust="spacingAndGlyphs">United States</text><text x="646.8" y="584.5" font-size="9.5" font-weight="bold" fill="#666" text-anchor="middle" textLength="26.5" lengthAdjust="spacingAndGlyphs">Mexico</text><text x="700.5" y="574" font-size="7.6" fill="#a9a9a9" text-anchor="middle">Gulf of</text><text x="699.8" y="581" font-size="7.6" fill="#a9a9a9" text-anchor="middle">Mexico</text><text x="746.8" y="594.5" font-size="7.4" fill="#666" text-anchor="middle">Cuba</text><text x="783.5" y="602.5" font-size="7.4" fill="#777">Puerto Rico</text><text x="698.5" y="620" font-size="7.2" fill="#777" text-anchor="middle">Guatemala</text><circle cx="670.4" cy="537.5" r="20.2" fill="#5c9bf0" fill-opacity="0.75" stroke="#2f6fd6" stroke-width="0.8"/><circle cx="670.3" cy="537" r="6.2" fill="#166fe6" fill-opacity="0.97" stroke="#3b78d8" stroke-width="0.6"/><circle cx="667.5" cy="523.6" r="3.7" fill="#4a89e8" fill-opacity="0.85" stroke="#3b78d8" stroke-width="0.6"/><circle cx="677.4" cy="539.8" r="3.7" fill="#4a89e8" fill-opacity="0.85" stroke="#3b78d8" stroke-width="0.6"/><circle cx="666.3" cy="549.6" r="3.7" fill="#4a89e8" fill-opacity="0.85" stroke="#3b78d8" stroke-width="0.6"/><circle cx="663.3" cy="553.9" r="3.7" fill="#4a89e8" fill-opacity="0.85" stroke="#3b78d8" stroke-width="0.6"/><circle cx="676.8" cy="552.7" r="3.7" fill="#4a89e8" fill-opacity="0.85" stroke="#3b78d8" stroke-width="0.6"/><circle cx="579" cy="531.2" r="3.7" fill="#4a89e8" fill-opacity="0.85" stroke="#3b78d8" stroke-width="0.6"/><circle cx="629.4" cy="542.7" r="3.7" fill="#4a89e8" fill-opacity="0.85" stroke="#3b78d8" stroke-width="0.6"/><circle cx="710.2" cy="488.6" r="3.7" fill="#4a89e8" fill-opacity="0.85" stroke="#3b78d8" stroke-width="0.6"/><circle cx="735.9" cy="491" r="3.7" fill="#4a89e8" fill-opacity="0.85" stroke="#3b78d8" stroke-width="0.6"/><circle cx="732.3" cy="494.7" r="3.7" fill="#4a89e8" fill-opacity="0.85" stroke="#3b78d8" stroke-width="0.6"/><circle cx="730.4" cy="496" r="3.7" fill="#4a89e8" fill-opacity="0.85" stroke="#3b78d8" stroke-width="0.6"/><circle cx="734" cy="495.5" r="3.7" fill="#4a89e8" fill-opacity="0.85" stroke="#3b78d8" stroke-width="0.6"/><circle cx="758.6" cy="499" r="3.7" fill="#4a89e8" fill-opacity="0.85" stroke="#3b78d8" stroke-width="0.6"/><circle cx="768.4" cy="495.3" r="3.7" fill="#4a89e8" fill-opacity="0.85" stroke="#3b78d8" stroke-width="0.6"/><rect x="725" y="616" width="165" height="10" fill="#fff" fill-opacity="0.5"/><line x1="839" y1="616.5" x2="839" y2="625.5" stroke="#fff" stroke-width="1"/><text x="729" y="624" font-size="7.4" fill="#222" textLength="104" lengthAdjust="spacingAndGlyphs">Map data ©2021 Google, INEGI</text><text x="842.8" y="624" font-size="7.4" fill="#222" textLength="42.5" lengthAdjust="spacingAndGlyphs">Terms of Use</text><text x="462.8" y="619.8" font-size="15.2" fill="#fff" stroke="#a0a0a0" stroke-width="1.3" paint-order="stroke" stroke-linejoin="round" textLength="46" lengthAdjust="spacingAndGlyphs" style="font-weight:bold">Google</text><rect x="852.3" y="424.5" width="29.5" height="29.2" rx="1" fill="#fff" filter="url(#sh)"/><path d="M861.1 437.8V433.4H865.3M869.1 433.4H873.3V437.8M873.3 441.3V445.6H869.1M865.3 445.6H861.1V441.3" fill="none" stroke="#666" stroke-width="1.7"/><rect x="852.2" y="493.7" width="29.7" height="29.5" rx="1" fill="#fff" filter="url(#sh)"/><g fill="#f4b400" stroke="#d49a00" stroke-width="0.6"><circle cx="866.7" cy="500.8" r="3.9"/><path d="M862.6 504.6H870.8L873 512.8L871.3 513.3L870.7 510.5V519.8H862.7V510.5L862.1 513.3L860.4 512.8Z"/></g><line x1="866.7" y1="512.5" x2="866.7" y2="519.6" stroke="#d49a00" stroke-width="0.7"/><circle cx="866.2" cy="499.8" r="1.8" fill="#fcd34a"/><rect x="852.5" y="547.4" width="29.5" height="61.2" rx="1" fill="#fff" filter="url(#sh)"/><line x1="856" y1="577.5" x2="879" y2="577.5" stroke="#e6e6e6" stroke-width="1"/><path d="M861 562.6H873.8M867.4 556.2V569" stroke="#666" stroke-width="2.4"/><path d="M861 593.3H873.8" stroke="#666" stroke-width="2.4"/><rect x="459" y="626" width="431" height="30.3" fill="#fff"/><text x="469.3" y="645" font-size="9.4" font-weight="bold" fill="#222" textLength="49.7" lengthAdjust="spacingAndGlyphs">Engagement</text><text x="530.8" y="645.5" font-size="10" fill="#333" textLength="15.2" lengthAdjust="spacingAndGlyphs">687</text><circle cx="555.8" cy="642" r="1.5" fill="#8a8a8a"/><circle cx="569.2" cy="642" r="4.4" fill="#8a8a8a"/><circle cx="588.8" cy="641.5" r="7.3" fill="#8a8a8a"/><text x="604" y="645.5" font-size="10" fill="#333" textLength="31.4" lengthAdjust="spacingAndGlyphs">134,911</text></g></svg>
</div></body></html>
